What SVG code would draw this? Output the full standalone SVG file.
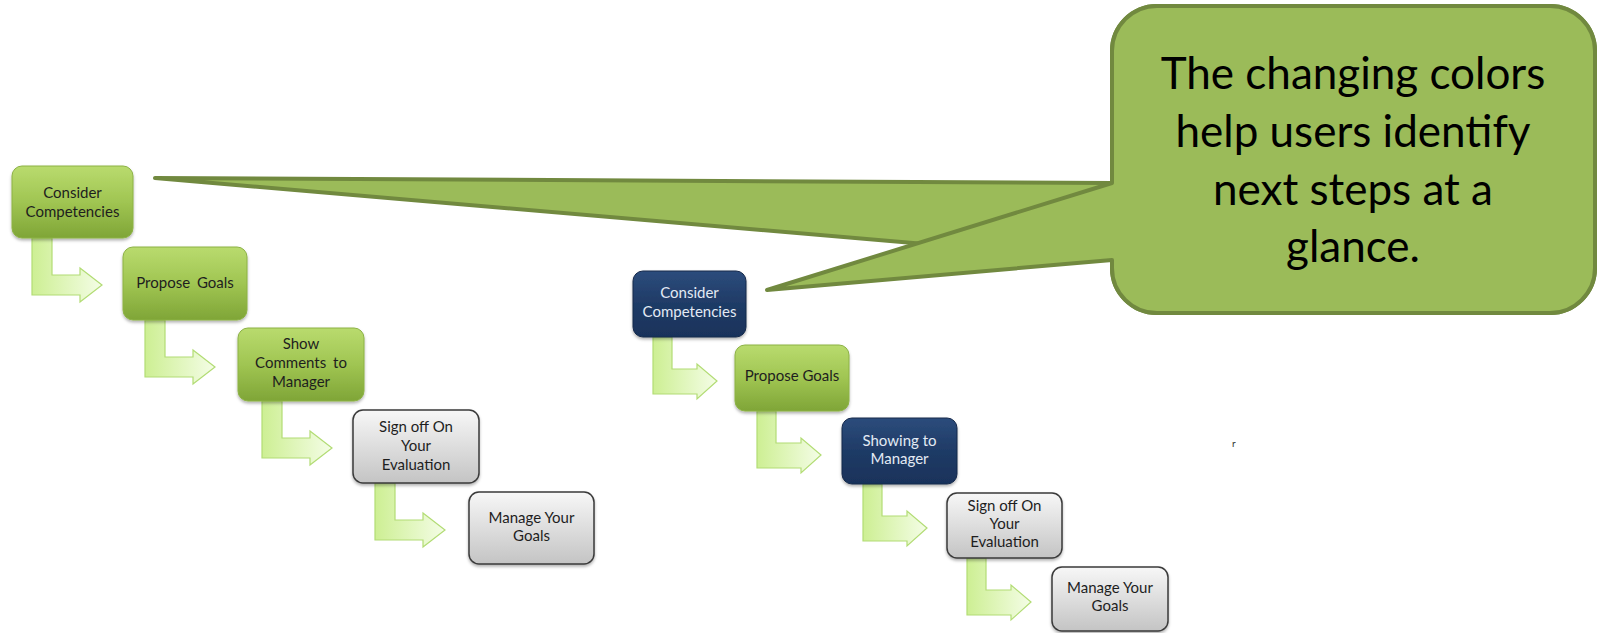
<svg xmlns="http://www.w3.org/2000/svg" width="1598" height="633" viewBox="0 0 1598 633">
<defs>
  <linearGradient id="gGreen" x1="0" y1="0" x2="0" y2="1">
    <stop offset="0" stop-color="#b9db6e"/>
    <stop offset="0.5" stop-color="#a0c552"/>
    <stop offset="1" stop-color="#7fa537"/>
  </linearGradient>
  <linearGradient id="gNavy" x1="0" y1="0" x2="0" y2="1">
    <stop offset="0" stop-color="#2c4c7c"/>
    <stop offset="0.5" stop-color="#1f3b66"/>
    <stop offset="1" stop-color="#19325a"/>
  </linearGradient>
  <linearGradient id="gGrey" x1="0" y1="0" x2="0" y2="1">
    <stop offset="0" stop-color="#f7f7f7"/>
    <stop offset="1" stop-color="#c4c4c4"/>
  </linearGradient>
  <linearGradient id="gArrow" x1="0" y1="0" x2="1" y2="0">
    <stop offset="0" stop-color="#cdef93"/>
    <stop offset="1" stop-color="#f4fde6"/>
  </linearGradient>
  <filter id="shadow" x="-10%" y="-10%" width="125%" height="130%">
    <feDropShadow dx="0" dy="2" stdDeviation="1.5" flood-color="#000" flood-opacity="0.3"/>
  </filter>
</defs>
<style>
  .green { fill: url(#gGreen); stroke: #8cb245; stroke-width: 1; filter: url(#shadow); }
  .navy { fill: url(#gNavy); stroke: #15294b; stroke-width: 1; filter: url(#shadow); }
  .grey { fill: url(#gGrey); stroke: #3a3a3a; stroke-width: 1.5; filter: url(#shadow); }
  .arrow { fill: url(#gArrow); stroke: #b2dc74; stroke-width: 1.2; stroke-linejoin: miter; }
  .t { font-family: Lato, "Liberation Sans", sans-serif; font-size: 15px; text-anchor: middle; }
  .td { fill: #1e1e1e; }
  .tl { fill: #e3eaf4; }
  .callout { fill: #9bbb59; stroke: #71893f; stroke-width: 4; stroke-linejoin: round; }
  .ct { font-family: Lato, "Liberation Sans", sans-serif; font-size: 44px; text-anchor: middle; fill: #000; }
</style>

<g id="connectors">
  <!-- left chain -->
  <path class="arrow" d="M32,238 h20 v37 h28 v-7 l22,17 l-22,17 v-7 h-48 z"/>
  <path class="arrow" d="M145,320 h20 v37 h28 v-7 l22,17 l-22,17 v-7 h-48 z"/>
  <path class="arrow" d="M262,401 h20 v37 h28 v-7 l22,17 l-22,17 v-7 h-48 z"/>
  <path class="arrow" d="M375,483 h20 v37 h28 v-7 l22,17 l-22,17 v-7 h-48 z"/>
  <!-- right chain -->
  <path class="arrow" d="M653,337 h19 v32 h25 v-5 l20,17 l-20,18 v-5 h-44 z"/>
  <path class="arrow" d="M757,411 h19 v32 h25 v-5 l20,17 l-20,18 v-5 h-44 z"/>
  <path class="arrow" d="M863,484 h19 v32 h25 v-5 l20,17 l-20,18 v-5 h-44 z"/>
  <path class="arrow" d="M967,558 h19 v32 h25 v-5 l20,17 l-20,18 v-5 h-44 z"/>
</g>

<g id="left-consider">
  <rect class="green" x="12" y="166" width="121" height="72" rx="10"/>
  <text class="t td" x="72.5" y="198">Consider</text>
  <text class="t td" x="72.5" y="217">Competencies</text>
</g>
<g id="left-propose">
  <rect class="green" x="123" y="247" width="124" height="73" rx="10"/>
  <text class="t td" x="185" y="288" word-spacing="3">Propose Goals</text>
</g>
<g id="left-show">
  <rect class="green" x="238" y="328" width="126" height="73" rx="10"/>
  <text class="t td" x="301" y="349">Show</text>
  <text class="t td" x="301" y="368" word-spacing="3">Comments to</text>
  <text class="t td" x="301" y="387">Manager</text>
</g>
<g id="left-signoff">
  <rect class="grey" x="353" y="410" width="126" height="73" rx="10"/>
  <text class="t td" x="416" y="432">Sign off On</text>
  <text class="t td" x="416" y="451">Your</text>
  <text class="t td" x="416" y="470">Evaluation</text>
</g>
<g id="left-manage">
  <rect class="grey" x="469" y="492" width="125" height="72" rx="10"/>
  <text class="t td" x="531.5" y="523">Manage Your</text>
  <text class="t td" x="531.5" y="541">Goals</text>
</g>

<g id="right-consider">
  <rect class="navy" x="633" y="271" width="113" height="66" rx="10"/>
  <text class="t tl" x="689.5" y="298">Consider</text>
  <text class="t tl" x="689.5" y="317">Competencies</text>
</g>
<g id="right-propose">
  <rect class="green" x="735" y="345" width="114" height="66" rx="10"/>
  <text class="t td" x="792" y="381">Propose Goals</text>
</g>
<g id="right-showing">
  <rect class="navy" x="842" y="418" width="115" height="66" rx="10"/>
  <text class="t tl" x="899.5" y="446">Showing to</text>
  <text class="t tl" x="899.5" y="464">Manager</text>
</g>
<g id="right-signoff">
  <rect class="grey" x="947" y="493" width="115" height="65" rx="10"/>
  <text class="t td" x="1004.5" y="511">Sign off On</text>
  <text class="t td" x="1004.5" y="529">Your</text>
  <text class="t td" x="1004.5" y="547">Evaluation</text>
</g>
<g id="right-manage">
  <rect class="grey" x="1052" y="567" width="116" height="64" rx="10"/>
  <text class="t td" x="1110" y="593">Manage Your</text>
  <text class="t td" x="1110" y="611">Goals</text>
</g>

<g id="callout">
  <path class="callout" d="M1157,6 H1550 A45,45 0 0 1 1595,51 V268 A45,45 0 0 1 1550,313 H1157 A45,45 0 0 1 1112,268 V260 L155,178 L1112,183 V51 A45,45 0 0 1 1157,6 Z"/>
  <path class="callout" d="M1157,6 H1550 A45,45 0 0 1 1595,51 V268 A45,45 0 0 1 1550,313 H1157 A45,45 0 0 1 1112,268 V260 L767,290 L1112,183 V51 A45,45 0 0 1 1157,6 Z"/>
  <text class="ct" x="1353" y="89">The changing colors</text>
  <text class="ct" x="1353" y="147">help users identify</text>
  <text class="ct" x="1353" y="205">next steps at a</text>
  <text class="ct" x="1353" y="262">glance.</text>
</g>

<text x="1232" y="447" font-family="Lato, 'Liberation Sans', sans-serif" font-size="10" fill="#333">r</text>
</svg>
